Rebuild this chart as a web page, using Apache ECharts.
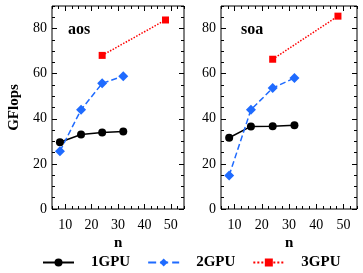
<!DOCTYPE html>
<html>
<head>
<meta charset="utf-8">
<script src="https://cdn.jsdelivr.net/npm/echarts@6/dist/echarts.min.js"></script>
<style>
html,body{margin:0;padding:0;background:#fff;}
#c{width:363px;height:273px;}
</style>
</head>
<body>
<div id="c"></div>
<script>
// ---- data ----
const n4 = [8, 16, 24, 32];
const n2 = [24, 48];
const aos1GPU = [29.6, 33.0, 33.9, 34.4];
const aos2GPU = [25.6, 44.0, 55.7, 58.9];
const aos3GPU = [68.1, 83.8];
const soa1GPU = [31.6, 36.6, 36.7, 37.1];
const soa2GPU = [14.9, 44.0, 53.6, 58.1];
const soa3GPU = [66.4, 85.5];
const xTicks = [10, 20, 30, 40, 50];
const yTicks = [0, 20, 40, 60, 80];
const panelNames = ['aos', 'soa'];
const seriesNames = ['1GPU', '2GPU', '3GPU'];
const xName = 'n';
const yName = 'GFlops';

const FONT = 'Liberation Serif';
const chart = echarts.init(document.getElementById('c'), null, {renderer: 'canvas'});

function pairs(xs, ys) { return xs.map((x, i) => [x, ys[i]]); }

const panelBoxes = [
  {left: 52, top: 6, width: 132, height: 203},
  {left: 221, top: 6, width: 136, height: 203}
];
const grids = [];
panelBoxes.forEach(b => {
  grids.push(Object.assign({show: true, borderColor: '#000', borderWidth: 1, backgroundColor: 'transparent', containLabel: false}, b));
  grids.push(Object.assign({show: false, containLabel: false}, b));
});

const xAxis = [], yAxis = [];
const tickStyle = {color: '#000', width: 1};
function baseX(gi, pos) {
  return {gridIndex: gi, type: 'value', min: 5, max: 55, position: pos,
    axisLine: {show: false, onZero: false}, splitLine: {show: false}, axisLabel: {show: false}};
}
function baseY(gi, pos) {
  return {gridIndex: gi, type: 'value', min: 0, max: 90, position: pos,
    axisLine: {show: false, onZero: false}, splitLine: {show: false}, axisLabel: {show: false}};
}
function addAxes(p) {
  const gMain = 2 * p, gMinor = 2 * p + 1;
  const xb = baseX(gMain, 'bottom');
  xb.axisTick = {show: true, inside: true, length: 5, customValues: xTicks, lineStyle: tickStyle};
  xb.axisLabel = {show: true, customValues: xTicks, color: '#000', fontFamily: FONT, fontSize: 14, margin: 9, hideOverlap: false};
  xAxis.push(xb);
  const xt = baseX(gMain, 'top');
  xt.axisTick = {show: true, inside: true, length: 5, customValues: xTicks, lineStyle: tickStyle};
  xAxis.push(xt);
  const yl = baseY(gMain, 'left');
  yl.axisTick = {show: true, inside: true, length: 5, customValues: yTicks, lineStyle: tickStyle};
  yl.axisLabel = {show: true, customValues: yTicks, color: '#000', fontFamily: FONT, fontSize: 14, margin: 5};
  if (p === 0) {
    yl.name = yName; yl.nameLocation = 'middle'; yl.nameGap = 30; yl.nameRotate = 90;
    yl.nameTextStyle = {fontFamily: FONT, fontWeight: 'bold', fontSize: 15, color: '#000'};
  }
  yAxis.push(yl);
  const yr = baseY(gMain, 'right');
  yr.axisTick = {show: true, inside: true, length: 5, customValues: yTicks, lineStyle: tickStyle};
  yAxis.push(yr);
  ['bottom', 'top'].forEach(pos => {
    const a = baseX(gMinor, pos);
    a.interval = 2.5;
    a.axisTick = {show: true, inside: true, length: 3, lineStyle: tickStyle};
    xAxis.push(a);
  });
  ['left', 'right'].forEach(pos => {
    const a = baseY(gMinor, pos);
    a.interval = 5;
    a.axisTick = {show: true, inside: true, length: 3, lineStyle: tickStyle};
    yAxis.push(a);
  });
}
addAxes(0);
addAxes(1);

const styles = [
  {color: '#000000', type: 'solid', symbol: 'circle', size: 8},
  {color: '#1f6bff', type: 'dashed', symbol: 'diamond', size: 10},
  {color: '#ff0000', type: 'dotted', symbol: 'rect', size: 7}
];
const panelData = [
  [pairs(n4, aos1GPU), pairs(n4, aos2GPU), pairs(n2, aos3GPU)],
  [pairs(n4, soa1GPU), pairs(n4, soa2GPU), pairs(n2, soa3GPU)]
];
const series = [];
panelData.forEach((sets, p) => {
  sets.forEach((d, si) => {
    const s = styles[si];
    series.push({
      name: seriesNames[si], type: 'line', xAxisIndex: p * 4, yAxisIndex: p * 4,
      data: d, symbol: s.symbol, symbolSize: s.size, showSymbol: true,
      lineStyle: {color: s.color, width: 1.5, type: s.type},
      itemStyle: {color: s.color, borderWidth: 0},
      emphasis: {disabled: true}, animation: false, z: 3
    });
  });
});

const titleStyle = {fontFamily: FONT, fontWeight: 'bold', fontSize: 16, color: '#000'};
const nStyle = {fontFamily: FONT, fontWeight: 'bold', fontSize: 15, color: '#000'};
chart.setOption({
  animation: false,
  backgroundColor: '#fff',
  grid: grids,
  xAxis: xAxis,
  yAxis: yAxis,
  title: [
    {text: panelNames[0], left: 68, top: 22, textStyle: titleStyle, padding: 0},
    {text: panelNames[1], left: 241, top: 22, textStyle: titleStyle, padding: 0},
    {text: xName, left: 114, top: 236, textStyle: nStyle, padding: 0},
    {text: xName, left: 285, top: 236, textStyle: nStyle, padding: 0}
  ],
  legend: {
    data: seriesNames, left: 42, top: 255, itemWidth: 31, itemHeight: 10, itemGap: 17, padding: 0,
    textStyle: {fontFamily: FONT, fontWeight: 'bold', fontSize: 15, color: '#000', padding: [0, 0, 0, 12]}
  },
  series: series
});
</script>
</body>
</html>
